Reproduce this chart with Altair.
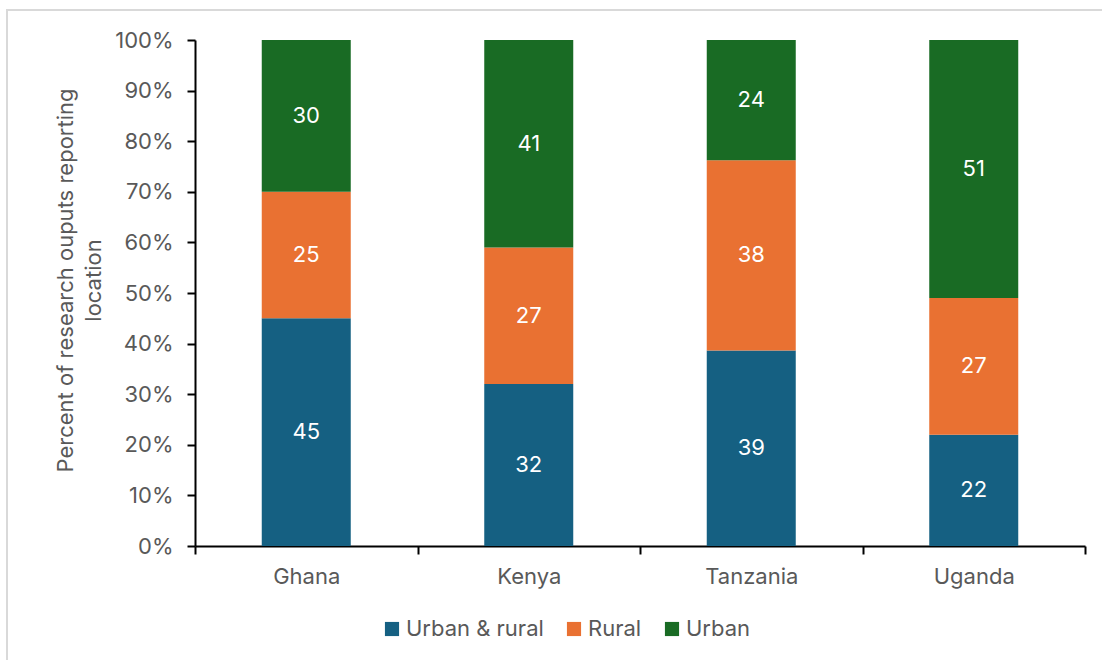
import altair as alt
import pandas as pd

countries = ["Ghana", "Kenya", "Tanzania", "Uganda"]
series = ["Urban & rural", "Rural", "Urban"]
urban_rural = [45, 32, 39, 22]
rural = [25, 27, 38, 27]
urban = [30, 41, 24, 51]
colors = ["#156082", "#E97132", "#196B24"]
y_title = ["Percent of research ouputs reporting", "location"]

rows = []
for s_i, (name, vals) in enumerate(zip(series, [urban_rural, rural, urban])):
    for c, v in zip(countries, vals):
        rows.append({"country": c, "location": name, "value": v, "order": s_i})
df = pd.DataFrame(rows)

FONT = "Inter"
GREY = "#595959"
FS = 22

base = alt.Chart(df).transform_stack(
    stack="value",
    groupby=["country"],
    as_=["y0", "y1"],
    sort=[alt.SortField("order", order="ascending")],
    offset="normalize",
).transform_calculate(mid="(datum.y0 + datum.y1) / 2")

x_enc = alt.X(
    "country:N",
    sort=countries,
    scale=alt.Scale(paddingInner=0, paddingOuter=0),
    axis=alt.Axis(
        title=None,
        labelAngle=0,
        labelFont=FONT,
        labelFontSize=FS,
        labelColor=GREY,
        labelPadding=12,
        domainColor="black",
        domainWidth=2,
        tickColor="black",
        tickWidth=2,
        tickSize=8,
        tickBand="extent",
    ),
)

bars = base.mark_bar(width=alt.RelativeBandSize(0.4)).encode(
    x=x_enc,
    y=alt.Y(
        "y0:Q",
        scale=alt.Scale(domain=[0, 1], nice=False),
        axis=alt.Axis(
            format=".0%",
            values=[i / 10 for i in range(11)],
            grid=False,
            title=y_title,
            titleFont=FONT,
            titleFontSize=FS,
            titleFontWeight="normal",
            titleColor=GREY,
            titleAngle=270,
            titleX=-130,
            titleY=240,
            titleAlign="center",
            titleBaseline="middle",
            titleLineHeight=28,
            labelFont=FONT,
            labelFontSize=FS,
            labelColor=GREY,
            labelPadding=14,
            domainColor="black",
            domainWidth=2,
            tickColor="black",
            tickWidth=2,
            tickSize=8,
        ),
    ),
    y2="y1:Q",
    color=alt.Color(
        "location:N",
        sort=series,
        scale=alt.Scale(domain=series, range=colors),
        legend=alt.Legend(
            title=None,
            orient="none",
            direction="horizontal",
            legendX=186,
            legendY=578,
            symbolType="square",
            symbolSize=200,
            symbolStrokeWidth=0,
            symbolOpacity=1,
            labelFont=FONT,
            labelFontSize=FS,
            labelColor=GREY,
            labelOffset=3,
            columnPadding=19,
            labelLimit=300,
        ),
    ),
)

labels = base.mark_text(color="white", font=FONT, fontSize=FS).encode(
    x=alt.X("country:N", sort=countries),
    y=alt.Y("mid:Q"),
    text=alt.Text("value:Q"),
)

border = alt.Chart(pd.DataFrame({"a": [0]})).mark_rect(
    fill="transparent", stroke="#d9d9d9", strokeWidth=2
).encode(
    x=alt.value(-188), x2=alt.value(930), y=alt.value(-30), y2=alt.value(650)
)

chart = alt.layer(border, bars, labels).properties(
    width=890,
    height=506,
    autosize=alt.AutoSizeParams(type="none"),
    padding={"left": 195, "top": 40, "right": 17, "bottom": 114},
).configure_view(stroke=None)

chart.save("out.html", embed_options={"renderer": "svg", "actions": False})
